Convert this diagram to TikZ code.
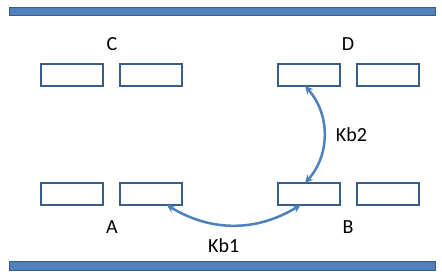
\documentclass[tikz,border=0pt]{standalone}
\usepackage{fontspec}
\setmainfont{Carlito}
\usetikzlibrary{arrows.meta, positioning}
\definecolor{rimblue}{RGB}{56, 93, 138}
\definecolor{fillblue}{RGB}{79, 129, 189}

\tikzset{
  carbox/.style={draw=rimblue, line width=1.1pt, minimum width=46.5pt, minimum height=16.5pt, inner sep=0pt, outer sep=0pt},
  roadbar/.style={fill=fillblue, draw=rimblue, line width=0.75pt},
  posname/.style={font=\fontsize{15}{18}\selectfont, text=black, inner sep=0pt},
  hop/.style={{Stealth[length=6pt, width=6pt]}-{Stealth[length=6pt, width=6pt]}, fillblue, line width=1.9pt}
}

\begin{document}
\begin{tikzpicture}[x=0.75pt, y=-0.75pt]
  \useasboundingbox (0, 0) rectangle (442, 277);

  % road edges
  \draw[roadbar] (9, 7.5) rectangle (435, 16);
  \draw[roadbar] (9, 262) rectangle (435, 270.5);

  % parking slots (top row C/D, bottom row A/B)
  \foreach \nm/\x in {c1/72, c2/151, d1/309, d2/388} {
    \node[carbox] (\nm) at (\x, 75) {};
  }
  \foreach \nm/\x in {a1/72, a2/151, b1/309, b2/388} {
    \node[carbox] (\nm) at (\x, 194) {};
  }

  % labels
  \node[posname] (lblC) at (112, 44) {C};
  \node[posname] (lblD) at (348, 44) {D};
  \node[posname] (lblA) at (112, 227) {A};
  \node[posname] (lblB) at (348, 227) {B};

  % transitions
  \draw[hop] (a2.-35) to[bend right=31] node[posname, below=9pt, xshift=-7.5pt] (lblKb1) {Kb1} (b1.-127);
  \draw[hop] (b1.110) to[bend right=42] node[posname, right=8pt] (lblKb2) {Kb2} (d1.-110);
\end{tikzpicture}
\end{document}
